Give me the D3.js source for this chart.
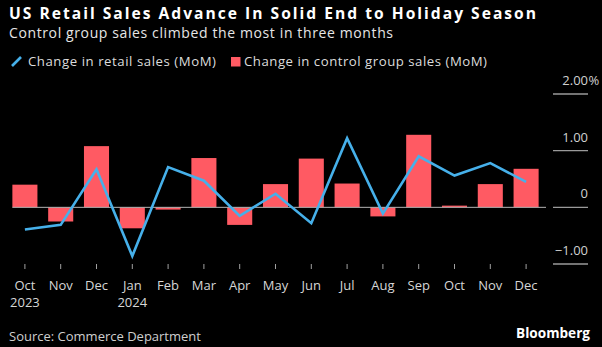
<!DOCTYPE html>
<html>
<head>
<meta charset="utf-8">
<script src="https://cdn.jsdelivr.net/npm/d3@7"></script>
<style>
  html, body { margin: 0; padding: 0; background: #000; }
  svg { display: block; }
  text { font-family: "Open Sans", "Noto Sans", sans-serif; }
</style>
</head>
<body>
<svg id="chart" width="602" height="347"></svg>
<script>
// Month keys, axis labels and the year shown under the first month of each year
const months = ["2023-10","2023-11","2023-12","2024-01","2024-02","2024-03","2024-04",
                "2024-05","2024-06","2024-07","2024-08","2024-09","2024-10","2024-11","2024-12"];
const monthLabels = ["Oct","Nov","Dec","Jan","Feb","Mar","Apr","May","Jun","Jul","Aug","Sep","Oct","Nov","Dec"];
const yearLabels = ["2023","","","2024","","","","","","","","","","",""];

// Month-over-month % change
const retailSales = [-0.39, -0.31, 0.67, -0.86, 0.71, 0.47, -0.15, 0.24, -0.28, 1.22, -0.11, 0.90, 0.56, 0.78, 0.45];
const controlGroup = [0.40, -0.25, 1.08, -0.37, -0.04, 0.87, -0.31, 0.41, 0.86, 0.42, -0.16, 1.28, 0.03, 0.41, 0.68];

const yTicks = [-1, 0, 1, 2];

const BLUE = "#46b0ea";
const RED = "#ff5a63";

const svg = d3.select("#chart");

// Fit a text element to a given width by adjusting letter spacing only
function fit(sel, w) {
  sel.attr("textLength", w).attr("lengthAdjust", "spacing");
  return sel;
}

// Headline, subtitle
fit(svg.append("text").attr("x", 9).attr("y", 18.5)
  .attr("fill", "#fff").attr("font-size", 15.6).attr("font-weight", 700)
  .text("US Retail Sales Advance In Solid End to Holiday Season"), 527);
fit(svg.append("text").attr("x", 9).attr("y", 37.5)
  .attr("fill", "#e6e6e6").attr("font-size", 14)
  .text("Control group sales climbed the most in three months"), 384);

// Legend
const lg = svg.append("g");
lg.append("line").attr("x1", 12).attr("y1", 66).attr("x2", 21).attr("y2", 57)
  .attr("stroke", BLUE).attr("stroke-width", 2.6);
fit(lg.append("text").attr("x", 28).attr("y", 66).attr("fill", "#dcdcdc").attr("font-size", 13.2)
  .text("Change in retail sales (MoM)"), 188);
lg.append("rect").attr("x", 231).attr("y", 57).attr("width", 9.5).attr("height", 9.5).attr("fill", RED);
fit(lg.append("text").attr("x", 244).attr("y", 66).attr("fill", "#dcdcdc").attr("font-size", 13.2)
  .text("Change in control group sales (MoM)"), 243);

// Scales
const x = d3.scaleBand().domain(months).range([7, 544]).paddingInner(0.3).paddingOuter(0.15);
const y = d3.scaleLinear().domain([-1, 2]).range([264, 94]);

// Bars
svg.append("g").selectAll("rect").data(controlGroup).join("rect")
  .attr("x", (d, i) => x(months[i]))
  .attr("width", x.bandwidth())
  .attr("y", d => y(Math.max(0, d)))
  .attr("height", d => Math.abs(y(d) - y(0)))
  .attr("fill", RED);

// Zero line across the plot
svg.append("line")
  .attr("x1", x(months[0])).attr("x2", x.range()[1] + 2)
  .attr("y1", y(0)).attr("y2", y(0))
  .attr("stroke", "#b4b4b4").attr("stroke-width", 1);

// Retail sales line
const line = d3.line()
  .x((d, i) => x(months[i]) + x.bandwidth() / 2)
  .y(d => y(d));
svg.append("path").datum(retailSales)
  .attr("d", line)
  .attr("fill", "none").attr("stroke", BLUE).attr("stroke-width", 2.6)
  .attr("stroke-linejoin", "miter");

// Right-hand value axis: short rules with labels above
const ya = svg.append("g");
const fmt = v => v === 0 ? "0" : d3.format(".2f")(v);
ya.selectAll("line").data(yTicks).join("line")
  .attr("x1", 553).attr("x2", 588)
  .attr("y1", d => y(d)).attr("y2", d => y(d))
  .attr("stroke", "#9a9a9a").attr("stroke-width", 1.3);
ya.selectAll("text.v").data(yTicks).join("text").attr("class", "v")
  .attr("x", 588).attr("y", d => y(d) - 9)
  .attr("text-anchor", "end").attr("fill", "#d0d0d0").attr("font-size", 13)
  .text(d => fmt(d));
ya.append("text").attr("x", 588.5).attr("y", y(2) - 9)
  .attr("fill", "#d0d0d0").attr("font-size", 13).text("%");

// Month axis
const xa = svg.append("g").attr("transform", "translate(0,264)")
  .call(d3.axisBottom(x).tickSize(5).tickSizeOuter(0).tickFormat((d, i) => monthLabels[i]));
xa.select(".domain").remove();
xa.selectAll(".tick line").attr("stroke", "#a0a0a0").attr("stroke-width", 1);
xa.selectAll(".tick text").attr("fill", "#d6d6d6").attr("font-size", 13)
  .attr("font-family", "Open Sans, sans-serif").attr("dy", null).attr("y", 25.5);
xa.selectAll(".tick").append("text")
  .attr("y", 42.5).attr("fill", "#d6d6d6").attr("font-size", 13)
  .attr("text-anchor", "middle").attr("font-family", "Open Sans, sans-serif")
  .text((d, i) => yearLabels[i]);

// Footer
svg.append("text").attr("x", 9).attr("y", 340.5).attr("fill", "#cfcfcf").attr("font-size", 13)
  .text("Source: Commerce Department");
svg.append("text").attr("x", 590).attr("y", 337.7).attr("text-anchor", "end")
  .attr("fill", "#fff").attr("font-size", 13.6).attr("font-weight", 700)
  .text("Bloomberg");
</script>
</body>
</html>
